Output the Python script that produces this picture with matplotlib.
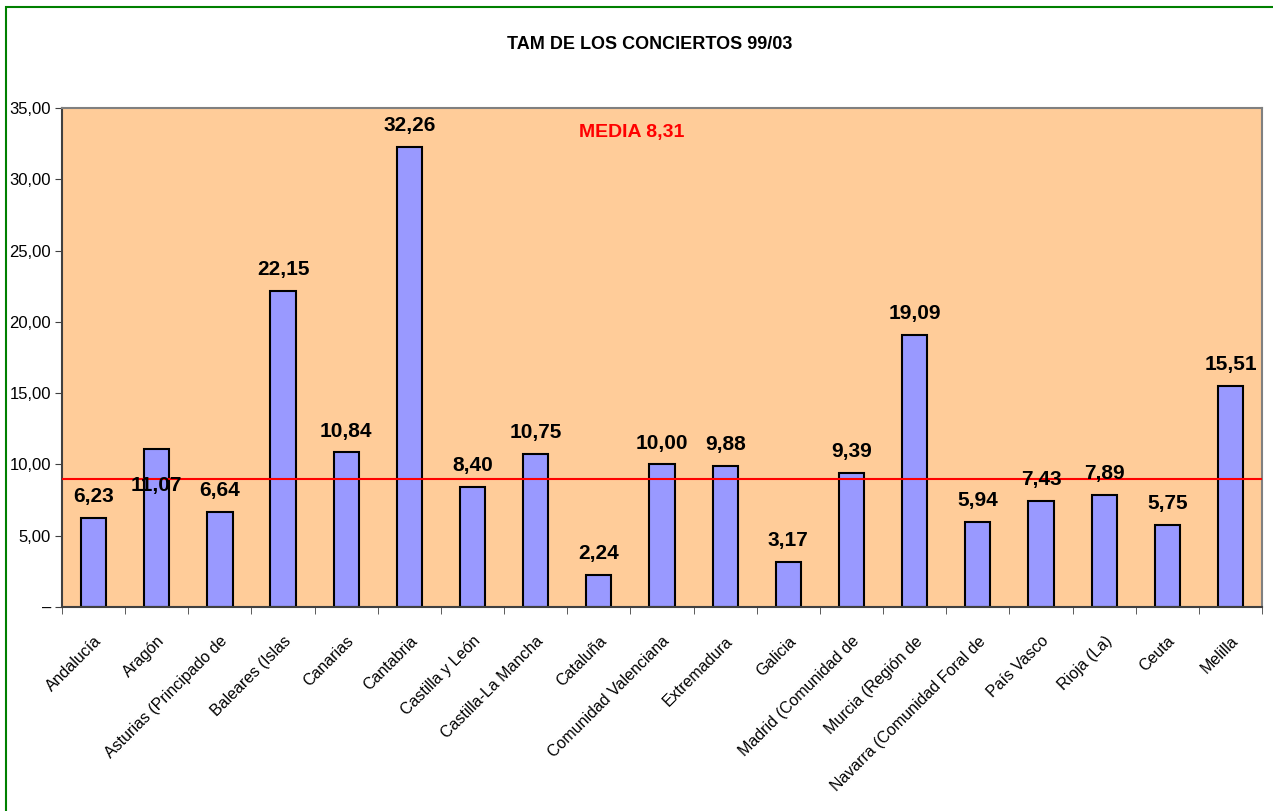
import numpy as np
import matplotlib
matplotlib.use('Agg')
from matplotlib import pyplot as plt
from matplotlib.patches import Rectangle

plt.rcParams['font.family'] = ['Liberation Sans', 'DejaVu Sans']

regiones = ['Andalucía', 'Aragón', 'Asturias (Principado de', 'Baleares (Islas',
            'Canarias', 'Cantabria', 'Castilla y León', 'Castilla-La Mancha',
            'Cataluña', 'Comunidad Valenciana', 'Extremadura', 'Galicia',
            'Madrid (Comunidad de', 'Murcia (Región de', 'Navarra (Comunidad Foral de',
            'País Vasco', 'Rioja (La)', 'Ceuta', 'Melilla']
tam = [6.23, 11.07, 6.64, 22.15, 10.84, 32.26, 8.40, 10.75, 2.24, 10.00,
       9.88, 3.17, 9.39, 19.09, 5.94, 7.43, 7.89, 5.75, 15.51]
media_txt = 'MEDIA 8,31'
media_linea = 9.0
yticks = [0, 5, 10, 15, 20, 25, 30, 35]
ytick_labels = ['–', '5,00', '10,00', '15,00', '20,00', '25,00', '30,00', '35,00']

fig = plt.figure(figsize=(12.73, 8.11), dpi=100)
ax = fig.add_axes([0.0487, 0.2515, 0.9427, 0.6153])
ax.set_facecolor('#FFCC99')

x = np.arange(len(regiones))
ax.bar(x, tam, width=0.4, color='#9999FF', edgecolor='black', linewidth=1.5, zorder=2)
ax.axhline(media_linea, color='red', linewidth=1.5, zorder=3)

# etiquetas de valor (la de Aragón queda por debajo, como en el original)
for i, v in enumerate(tam):
    y = v + 1.5
    if regiones[i] == 'Aragón':
        y = 8.5
    ax.text(i, y, f'{v:.2f}'.replace('.', ','), ha='center', va='center',
            fontsize=15, fontweight='bold', zorder=4)

ax.text(0.475, 0.95, media_txt, transform=ax.transAxes, color='red',
        fontsize=14, fontweight='bold', ha='center', va='center')

ax.set_xlim(-0.5, len(regiones) - 0.5)
ax.set_ylim(0, 35)
ax.set_yticks(yticks)
ax.set_yticklabels(ytick_labels, fontsize=12)
ax.set_xticks(x)
ax.set_xticklabels(regiones, rotation=45, ha='right', rotation_mode='anchor', fontsize=11.5)
ax.set_xticks(np.arange(len(regiones) + 1) - 0.5, minor=True)
ax.tick_params(axis='x', which='major', length=0, pad=19)
ax.tick_params(axis='x', which='minor', length=5, color='#404040')
ax.tick_params(axis='y', length=5, color='#404040', pad=3)

for s in ['top', 'right']:
    ax.spines[s].set_color('#808080')
    ax.spines[s].set_linewidth(1.5)
for s in ['left', 'bottom']:
    ax.spines[s].set_color('#404040')
    ax.spines[s].set_linewidth(1.5)

fig.text(0.51, 0.945, 'TAM DE LOS CONCIERTOS 99/03', ha='center', va='center',
         fontsize=13, fontweight='bold')

fig.patches.append(Rectangle((0.0047, -0.1), 1.2, 1.0914, transform=fig.transFigure,
                             fill=False, edgecolor='#008000', linewidth=1.5))

fig.savefig('out.png', dpi=100)
